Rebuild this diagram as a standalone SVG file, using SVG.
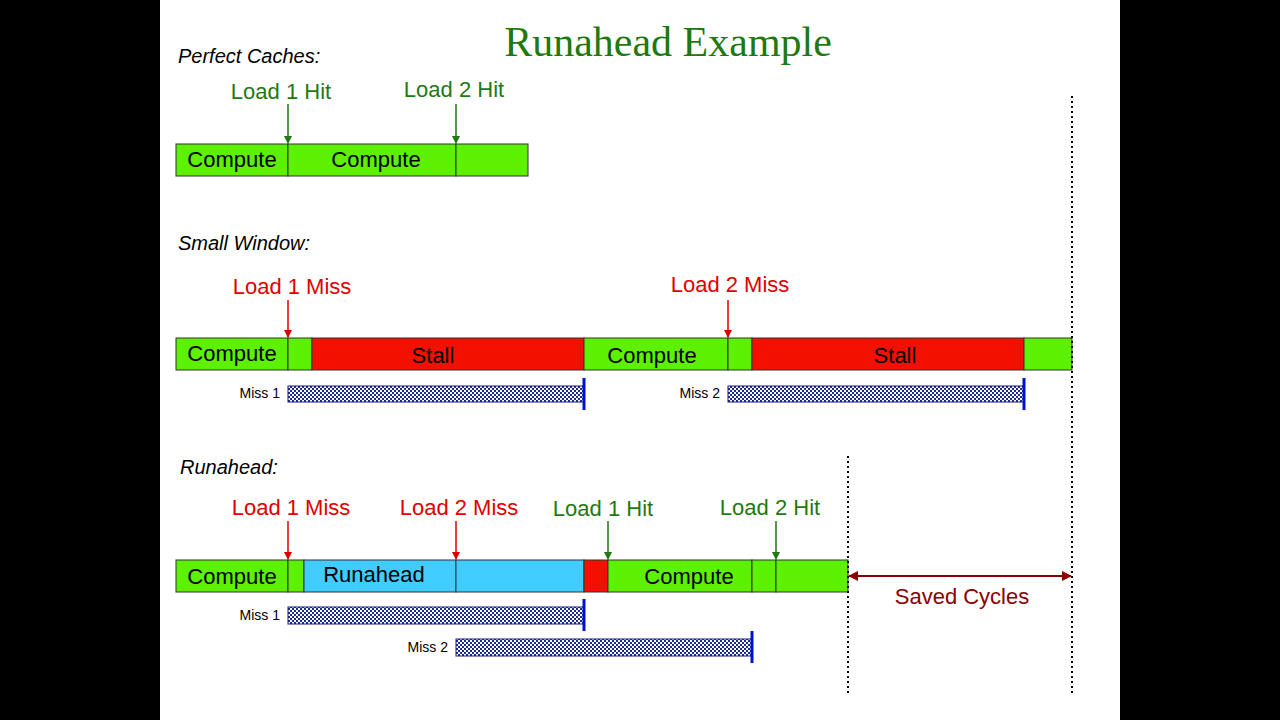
<svg xmlns="http://www.w3.org/2000/svg" width="1280" height="720" viewBox="0 0 1280 720">
<style>
.t{font-family:"Liberation Sans",Arial,sans-serif;font-size:22px}
.h{font-style:italic;font-size:20px;fill:#000}
.g{fill:#1e7a10}.r{fill:#e00000}
.s{font-family:"Liberation Sans",Arial,sans-serif;font-size:14px;fill:#000}
.bg{fill:#5df000;stroke:#333;stroke-width:1}
.br{fill:#f41000;stroke:#333;stroke-width:1}
.bb{fill:#40ccff;stroke:#333;stroke-width:1}
.m{fill:url(#chk);stroke:#1a1a80;stroke-width:1}
.e{stroke:#0010d0;stroke-width:3}
.ag{stroke:#1e7a10;stroke-width:1.5;marker-end:url(#mg)}
.ar{stroke:#e00000;stroke-width:1.5;marker-end:url(#mr)}
.d{stroke:#000;stroke-width:2;stroke-dasharray:2 3}
</style>
<defs>
<pattern id="chk" width="4" height="4" patternUnits="userSpaceOnUse"><rect width="4" height="4" fill="#fff"/><rect width="2" height="2" fill="#1a2a90"/><rect x="2" y="2" width="2" height="2" fill="#1a2a90"/></pattern>
<marker id="mg" markerWidth="8" markerHeight="8" refX="7" refY="4" orient="auto" markerUnits="userSpaceOnUse"><path d="M0,0L8,4L0,8z" fill="#1e7a10"/></marker>
<marker id="mr" markerWidth="8" markerHeight="8" refX="7" refY="4" orient="auto" markerUnits="userSpaceOnUse"><path d="M0,0L8,4L0,8z" fill="#e00000"/></marker>
<marker id="md" markerWidth="10" markerHeight="10" refX="9" refY="5" orient="auto" markerUnits="userSpaceOnUse"><path d="M0,0L10,5L0,10z" fill="#8b0000"/></marker>
<marker id="ms" markerWidth="10" markerHeight="10" refX="1" refY="5" orient="auto" markerUnits="userSpaceOnUse"><path d="M10,0L0,5L10,10z" fill="#8b0000"/></marker>
</defs>
<rect width="1280" height="720" fill="#000"/>
<rect x="160" width="960" height="720" fill="#fff"/>
<text x="668" y="56" text-anchor="middle" font-family="Liberation Serif,serif" font-size="42" fill="#1e7a10">Runahead Example</text>
<text class="t h" x="178" y="63">Perfect Caches:</text>
<text class="t h" x="178" y="250">Small Window:</text>
<text class="t h" x="180" y="474">Runahead:</text>
<g id="perfect">
<rect class="bg" x="176" y="144" width="112" height="32"/><rect class="bg" x="288" y="144" width="168" height="32"/><rect class="bg" x="456" y="144" width="72" height="32"/>
<text class="t" x="232" y="167" text-anchor="middle">Compute</text><text class="t" x="376" y="167" text-anchor="middle">Compute</text>
</g>
<g id="small">
<rect class="bg" x="176" y="338" width="112" height="32"/><rect class="bg" x="288" y="338" width="24" height="32"/>
<rect class="br" x="312" y="338" width="272" height="32"/><rect class="bg" x="584" y="338" width="144" height="32"/>
<rect class="bg" x="728" y="338" width="24" height="32"/><rect class="br" x="752" y="338" width="272" height="32"/>
<rect class="bg" x="1024" y="338" width="48" height="32"/>
<text class="t" x="232" y="361" text-anchor="middle">Compute</text><text class="t" x="433" y="363" text-anchor="middle">Stall</text>
<text class="t" x="652" y="363" text-anchor="middle">Compute</text><text class="t" x="895" y="363" text-anchor="middle">Stall</text>
<text class="s" x="280" y="398" text-anchor="end">Miss 1</text><rect class="m" x="288" y="386" width="296" height="16"/><line class="e" x1="584" y1="378" x2="584" y2="410"/>
<text class="s" x="720" y="398" text-anchor="end">Miss 2</text><rect class="m" x="728" y="386" width="296" height="16"/><line class="e" x1="1024" y1="378" x2="1024" y2="410"/>
</g>
<g id="runahead">
<rect class="bg" x="176" y="560" width="112" height="32"/><rect class="bg" x="288" y="560" width="16" height="32"/>
<rect class="bb" x="304" y="560" width="152" height="32"/><rect class="bb" x="456" y="560" width="128" height="32"/>
<rect class="br" x="584" y="560" width="24" height="32"/><rect class="bg" x="608" y="560" width="144" height="32"/>
<rect class="bg" x="752" y="560" width="24" height="32"/><rect class="bg" x="776" y="560" width="72" height="32"/>
<text class="t" x="232" y="584" text-anchor="middle">Compute</text><text class="t" x="374" y="582" text-anchor="middle">Runahead</text>
<text class="t" x="689" y="584" text-anchor="middle">Compute</text>
<text class="s" x="280" y="620" text-anchor="end">Miss 1</text><rect class="m" x="288" y="607" width="296" height="17"/><line class="e" x1="584" y1="599" x2="584" y2="631"/>
<text class="s" x="448" y="652" text-anchor="end">Miss 2</text><rect class="m" x="456" y="639" width="296" height="17"/><line class="e" x1="752" y1="631" x2="752" y2="663"/>
</g>
<g id="labels">
<text class="t g" x="281" y="99" text-anchor="middle">Load 1 Hit</text><text class="t g" x="454" y="97" text-anchor="middle">Load 2 Hit</text>
<text class="t r" x="292" y="294" text-anchor="middle">Load 1 Miss</text><text class="t r" x="730" y="292" text-anchor="middle">Load 2 Miss</text>
<text class="t r" x="291" y="515" text-anchor="middle">Load 1 Miss</text><text class="t r" x="459" y="515" text-anchor="middle">Load 2 Miss</text>
<text class="t g" x="603" y="516" text-anchor="middle">Load 1 Hit</text><text class="t g" x="770" y="515" text-anchor="middle">Load 2 Hit</text>
<text class="t" x="962" y="604" text-anchor="middle" fill="#8b0000">Saved Cycles</text>
</g>
<g id="connectors">
<line class="ag" x1="288" y1="104" x2="288" y2="143"/><line class="ag" x1="456" y1="104" x2="456" y2="143"/>
<line class="ar" x1="288" y1="300" x2="288" y2="337"/><line class="ar" x1="728" y1="300" x2="728" y2="337"/>
<line class="ar" x1="288" y1="521" x2="288" y2="559"/><line class="ar" x1="456" y1="521" x2="456" y2="559"/>
<line class="ag" x1="608" y1="521" x2="608" y2="559"/><line class="ag" x1="776" y1="521" x2="776" y2="559"/>
<line class="d" x1="848" y1="456" x2="848" y2="693"/><line class="d" x1="1072" y1="96" x2="1072" y2="695"/>
<line x1="849" y1="576" x2="1071" y2="576" stroke="#8b0000" stroke-width="2" marker-start="url(#ms)" marker-end="url(#md)"/>
</g>
</svg>
